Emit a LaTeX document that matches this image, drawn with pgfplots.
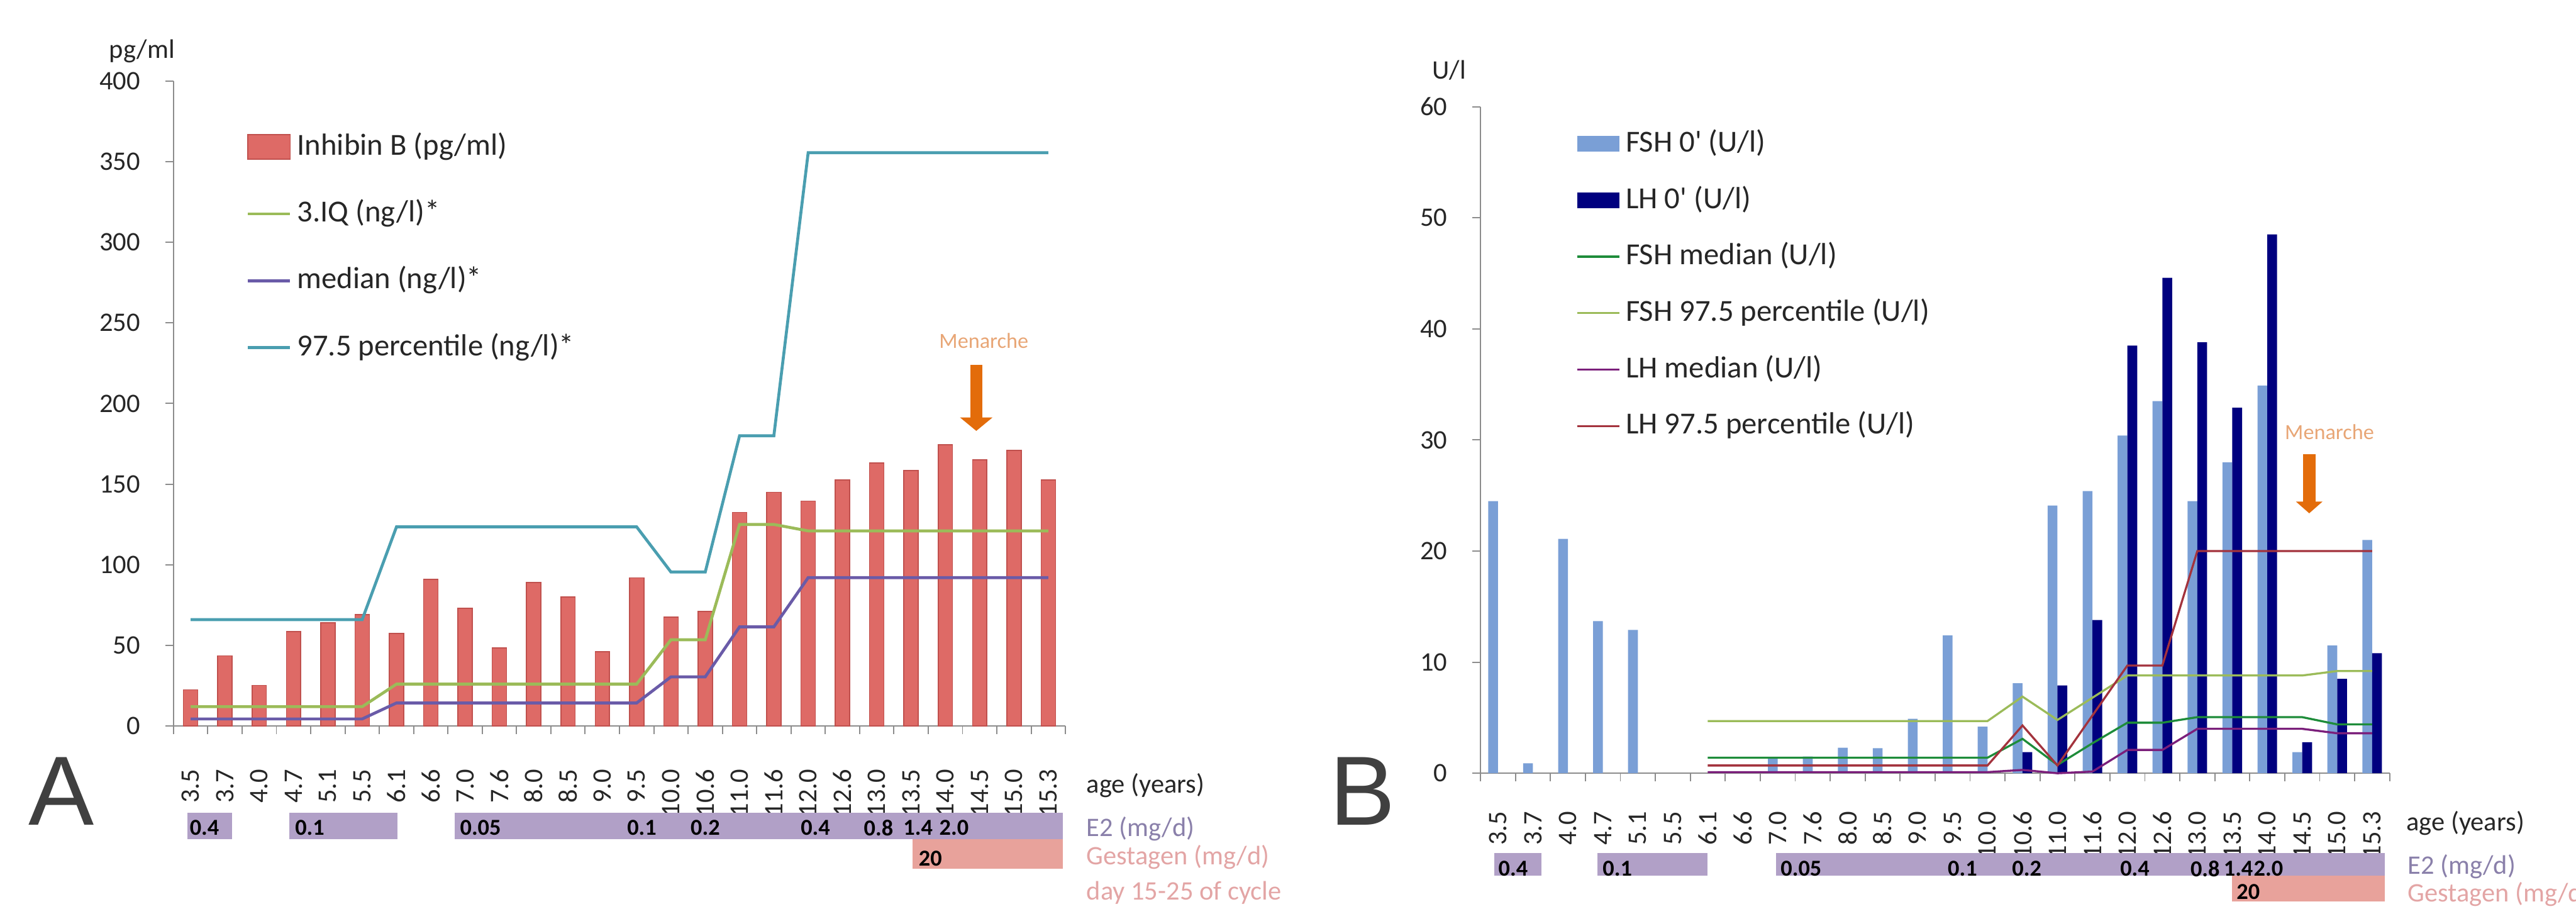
\documentclass[border=0pt]{standalone}
\usepackage{pgfplots}
\pgfplotsset{compat=1.18}
\usetikzlibrary{arrows.meta}
\usepackage{fontspec}
\setmainfont{Carlito}
\newfontfamily\letterfont{Liberation Sans}

\definecolor{axisgray}{HTML}{8C8C8C}
\definecolor{inhfill}{HTML}{DE6A66}
\definecolor{inhdraw}{HTML}{C0504D}
\definecolor{iqcol}{HTML}{9BBB59}
\definecolor{medcol}{HTML}{6A5BA8}
\definecolor{pctcol}{HTML}{4A9EB0}
\definecolor{fshfill}{HTML}{7A9FD6}
\definecolor{lhfill}{HTML}{00007F}
\definecolor{fshmed}{HTML}{1E8C3A}
\definecolor{fshpct}{HTML}{9BBB59}
\definecolor{lhmed}{HTML}{7B1F7B}
\definecolor{lhpct}{HTML}{A3333D}
\definecolor{e2band}{HTML}{B1A0C7}
\definecolor{gesband}{HTML}{E8A29B}
\definecolor{e2text}{HTML}{8A80AA}
\definecolor{gestext}{HTML}{E3A5A5}
\definecolor{arrowcol}{HTML}{E36C0A}
\definecolor{mentext}{HTML}{E8A676}
\definecolor{ticktext}{HTML}{262626}
\definecolor{lettercol}{HTML}{404040}

\newcommand{\tickfont}{\fontsize{6.2}{7.4}\selectfont}
\newcommand{\legfont}{\fontsize{7.1}{8.5}\selectfont}
\newcommand{\bandfont}{\fontsize{5.3}{6.3}\selectfont\bfseries}
\newcommand{\menfont}{\fontsize{5}{6}\selectfont}

\pgfplotsset{
  panel/.style={
    scale only axis, anchor=south west, clip=false,
    xmin=-0.5, xmax=25.5,
    axis x line*=bottom, axis y line*=left,
    axis line style={draw=axisgray, line width=0.12mm},
    tick align=outside,
    major tick length=0.65mm,
    tick style={draw=axisgray, line width=0.1mm},
    xtick={-0.5,0.5,1.5,2.5,3.5,4.5,5.5,6.5,7.5,8.5,9.5,10.5,11.5,12.5,13.5,14.5,15.5,16.5,17.5,18.5,19.5,20.5,21.5,22.5,23.5,24.5,25.5},
    x tick label as interval,
    xticklabels={3.5,3.7,4.0,4.7,5.1,5.5,6.1,6.6,7.0,7.6,8.0,8.5,9.0,9.5,10.0,10.6,11.0,11.6,12.0,12.6,13.0,13.5,14.0,14.5,15.0,15.3},
    yticklabel style={font=\tickfont, text=ticktext, inner sep=0pt, anchor=east, xshift=-2mm},
    /pgf/number format/assume math mode=true,
    legend cell align=left,
  },
  barleg/.style={legend image code/.code={\path[##1] (0mm,-1.0mm) rectangle (3.45mm,1.0mm);}},
  barlegB/.style={legend image code/.code={\path[##1] (0mm,-0.65mm) rectangle (3.45mm,0.65mm);}},
  lineleg/.style={legend image code/.code={\draw[##1] (0mm,0mm) -- (3.45mm,0mm);}},
}

\begin{document}
\begin{tikzpicture}
\path[use as bounding box] (0,0) rectangle (210.1mm,74.1mm);

% ---------------- Panel A ----------------
\begin{axis}[panel,
  at={(14.15mm,14.9mm)}, width=72.75mm, height=52.6mm,
  ymin=0, ymax=400, ytick={0,50,...,400},
  xticklabel style={font=\tickfont, text=ticktext, inner sep=0pt, yshift=-2.8mm, rotate=90, anchor=east},
  legend style={at={(0.0818,0.92)}, anchor=north west, draw=none, fill=none,
    inner sep=0pt, outer sep=0pt, row sep=3.1mm, column sep=0.45mm,
    font=\legfont, text=ticktext, nodes={inner sep=0pt}},
]
\addplot[ybar, bar width=0.42, fill=inhfill, draw=inhdraw, line width=0.08mm, barleg] coordinates {
(0,22.5)(1,43.5)(2,25.3)(3,58.5)(4,64)(5,69)(6,57.3)(7,91)(8,73)(9,48.5)
(10,89)(11,80)(12,46)(13,92)(14,67.5)(15,71)(16,132.5)(17,145)(18,139.5)(19,152.5)
(20,163)(21,158.5)(22,174.5)(23,165)(24,171)(25,152.5)};
\addlegendentry{Inhibin B (pg/ml)}
\addplot[iqcol, line width=0.24mm, mark=none, lineleg] coordinates {
(0,12)(1,12)(2,12)(3,12)(4,12)(5,12)(6,26)(7,26)(8,26)(9,26)(10,26)(11,26)(12,26)(13,26)
(14,53.5)(15,53.5)(16,125)(17,125)(18,121)(19,121)(20,121)(21,121)(22,121)(23,121)(24,121)(25,121)};
\addlegendentry{3.IQ (ng/l)*}
\addplot[medcol, line width=0.24mm, mark=none, lineleg] coordinates {
(0,4.4)(1,4.4)(2,4.4)(3,4.4)(4,4.4)(5,4.4)(6,14.3)(7,14.3)(8,14.3)(9,14.3)(10,14.3)(11,14.3)(12,14.3)(13,14.3)
(14,30.5)(15,30.5)(16,61.5)(17,61.5)(18,92)(19,92)(20,92)(21,92)(22,92)(23,92)(24,92)(25,92)};
\addlegendentry{median (ng/l)*}
\addplot[pctcol, line width=0.24mm, mark=none, lineleg] coordinates {
(0,66)(1,66)(2,66)(3,66)(4,66)(5,66)(6,123.5)(7,123.5)(8,123.5)(9,123.5)(10,123.5)(11,123.5)(12,123.5)(13,123.5)
(14,95.5)(15,95.5)(16,180)(17,180)(18,355.5)(19,355.5)(20,355.5)(21,355.5)(22,355.5)(23,355.5)(24,355.5)(25,355.5)};
\addlegendentry{97.5 percentile (ng/l)*}

% treatment bands
\fill[e2band] (axis cs:-0.1,-53.6) rectangle (axis cs:1.2,-70);
\fill[e2band] (axis cs:2.87,-53.6) rectangle (axis cs:6.03,-70);
\fill[e2band] (axis cs:7.7,-53.6) rectangle (axis cs:25.42,-70);
\fill[gesband] (axis cs:21.05,-70) rectangle (axis cs:25.42,-88.6);
\begin{scope}[every node/.style={font=\bandfont, inner sep=0pt, anchor=west}]
\node at (axis cs:-0.05,-63) {0.4};
\node at (axis cs:3.02,-63) {0.1};
\node at (axis cs:7.83,-63) {0.05};
\node at (axis cs:12.7,-63) {0.1};
\node at (axis cs:14.55,-63) {0.2};
\node at (axis cs:17.76,-63) {0.4};
\node at (axis cs:19.6,-63) {0.8};
\node at (axis cs:20.75,-63) {1.4};
\node at (axis cs:21.8,-63) {2.0};
\node at (axis cs:21.2,-82) {20};
\end{scope}
% menarche
\draw[arrowcol, line width=1mm, -{Triangle[width=2.6mm,length=1.1mm]}] (axis cs:22.9,224) -- (axis cs:22.9,183);
\node[font=\menfont, text=mentext, inner sep=0pt] at (axis cs:23.12,239) {Menarche};
\end{axis}

% ---------------- Panel B ----------------
\begin{axis}[panel,
  at={(120.75mm,11.05mm)}, width=74.15mm, height=54.35mm,
  ymin=0, ymax=60, ytick={0,10,...,60},
  xticklabel style={font=\tickfont, text=ticktext, inner sep=0pt, yshift=-2.4mm, rotate=90, anchor=east},
  legend style={at={(0.105,0.966)}, anchor=north west, draw=none, fill=none,
    inner sep=0pt, outer sep=0pt, row sep=2.25mm, column sep=0.45mm,
    font=\legfont, text=ticktext, nodes={inner sep=0pt}},
]
\addplot[ybar, bar width=0.28, bar shift=-0.14, fill=fshfill, draw=none, barlegB] coordinates {
(0,24.5)(1,0.9)(2,21.1)(3,13.7)(4,12.9)(8,1.35)(9,1.5)(10,2.3)(11,2.25)(12,4.9)(13,12.4)
(14,4.2)(15,8.1)(16,24.1)(17,25.4)(18,30.4)(19,33.5)(20,24.5)(21,28.0)(22,34.9)(23,1.9)(24,11.5)(25,21.0)};
\addlegendentry{FSH 0\textquotesingle\ (U/l)}
\addplot[ybar, bar width=0.28, bar shift=0.14, fill=lhfill, draw=none, barlegB] coordinates {
(15,1.9)(16,7.9)(17,13.8)(18,38.5)(19,44.6)(20,38.8)(21,32.9)(22,48.5)(23,2.8)(24,8.5)(25,10.8)};
\addlegendentry{LH 0\textquotesingle\ (U/l)}
\addplot[fshmed, line width=0.17mm, mark=none, lineleg] coordinates {
(6,1.4)(7,1.4)(8,1.4)(9,1.4)(10,1.4)(11,1.4)(12,1.4)(13,1.4)(14,1.4)(15,3.1)(16,0.75)(17,2.7)
(18,4.55)(19,4.55)(20,5.05)(21,5.05)(22,5.05)(23,5.05)(24,4.4)(25,4.4)};
\addlegendentry{FSH median (U/l)}
\addplot[fshpct, line width=0.17mm, mark=none, lineleg] coordinates {
(6,4.7)(7,4.7)(8,4.7)(9,4.7)(10,4.7)(11,4.7)(12,4.7)(13,4.7)(14,4.7)(15,6.9)(16,4.8)(17,6.8)
(18,8.8)(19,8.8)(20,8.8)(21,8.8)(22,8.8)(23,8.8)(24,9.2)(25,9.2)};
\addlegendentry{FSH 97.5 percentile (U/l)}
\addplot[lhmed, line width=0.17mm, mark=none, lineleg] coordinates {
(6,0.1)(7,0.1)(8,0.1)(9,0.1)(10,0.1)(11,0.1)(12,0.1)(13,0.1)(14,0.1)(15,0.3)(16,0.0)(17,0.15)
(18,2.1)(19,2.1)(20,4.0)(21,4.0)(22,4.0)(23,4.0)(24,3.6)(25,3.6)};
\addlegendentry{LH median (U/l)}
\addplot[lhpct, line width=0.17mm, mark=none, lineleg] coordinates {
(6,0.7)(7,0.7)(8,0.7)(9,0.7)(10,0.7)(11,0.7)(12,0.7)(13,0.7)(14,0.7)(15,4.3)(16,0.7)(17,5.2)
(18,9.7)(19,9.7)(20,20)(21,20)(22,20)(23,20)(24,20)(25,20)};
\addlegendentry{LH 97.5 percentile (U/l)}

\fill[e2band] (axis cs:-0.1,-7.17) rectangle (axis cs:1.25,-9.22);
\fill[e2band] (axis cs:2.85,-7.17) rectangle (axis cs:6.0,-9.22);
\fill[e2band] (axis cs:7.95,-7.17) rectangle (axis cs:25.36,-9.22);
\fill[gesband] (axis cs:21.0,-9.22) rectangle (axis cs:25.36,-11.53);
\begin{scope}[every node/.style={font=\bandfont, inner sep=0pt, anchor=west}]
\node at (axis cs:-0.01,-8.6) {0.4};
\node at (axis cs:2.97,-8.6) {0.1};
\node at (axis cs:8.06,-8.6) {0.05};
\node at (axis cs:12.84,-8.6) {0.1};
\node at (axis cs:14.68,-8.6) {0.2};
\node at (axis cs:17.77,-8.6) {0.4};
\node at (axis cs:19.78,-8.6) {0.8};
\node at (axis cs:20.73,-8.6) {1.4};
\node at (axis cs:21.59,-8.6) {2.0};
\node at (axis cs:21.1,-10.7) {20};
\end{scope}
\draw[arrowcol, line width=1mm, -{Triangle[width=2.1mm,length=0.95mm]}] (axis cs:23.2,28.7) -- (axis cs:23.2,23.4);
\node[font=\menfont, text=mentext, inner sep=0pt] at (axis cs:23.78,30.7) {Menarche};
\end{axis}

% ---------------- free texts ----------------
\node[font=\tickfont, text=ticktext, inner sep=0pt, anchor=west] at (8.85mm,69.9mm) {pg/ml};
\node[font=\tickfont, text=ticktext, inner sep=0pt, anchor=west] at (116.75mm,68.35mm) {U/l};

\node[font=\tickfont, text=ticktext, inner sep=0pt, anchor=west] at (88.55mm,10.05mm) {age (years)};
\node[font=\tickfont, text=e2text, inner sep=0pt, anchor=west] at (88.55mm,6.5mm) {E2 (mg/d)};
\node[font=\tickfont, text=gestext, inner sep=0pt, anchor=west] at (88.55mm,4.2mm) {Gestagen (mg/d)};
\node[font=\tickfont, text=gestext, inner sep=0pt, anchor=west] at (88.55mm,1.3mm) {day 15-25 of cycle};

\node[font=\tickfont, text=ticktext, inner sep=0pt, anchor=west] at (196.2mm,7.0mm) {age (years)};
\node[font=\tickfont, text=e2text, inner sep=0pt, anchor=west] at (196.3mm,3.45mm) {E2 (mg/d)};
\node[font=\tickfont, text=gestext, inner sep=0pt, anchor=west] at (196.3mm,1.2mm) {Gestagen (mg/d)};

\node[font=\letterfont\fontsize{22.8}{24}\selectfont, text=lettercol, inner sep=0pt, anchor=base west] at (2.25mm,6.85mm) {A};
\node[font=\letterfont\fontsize{22.8}{24}\selectfont, text=lettercol, inner sep=0pt, anchor=base west] at (108.4mm,6.85mm) {B};
\end{tikzpicture}
\end{document}
